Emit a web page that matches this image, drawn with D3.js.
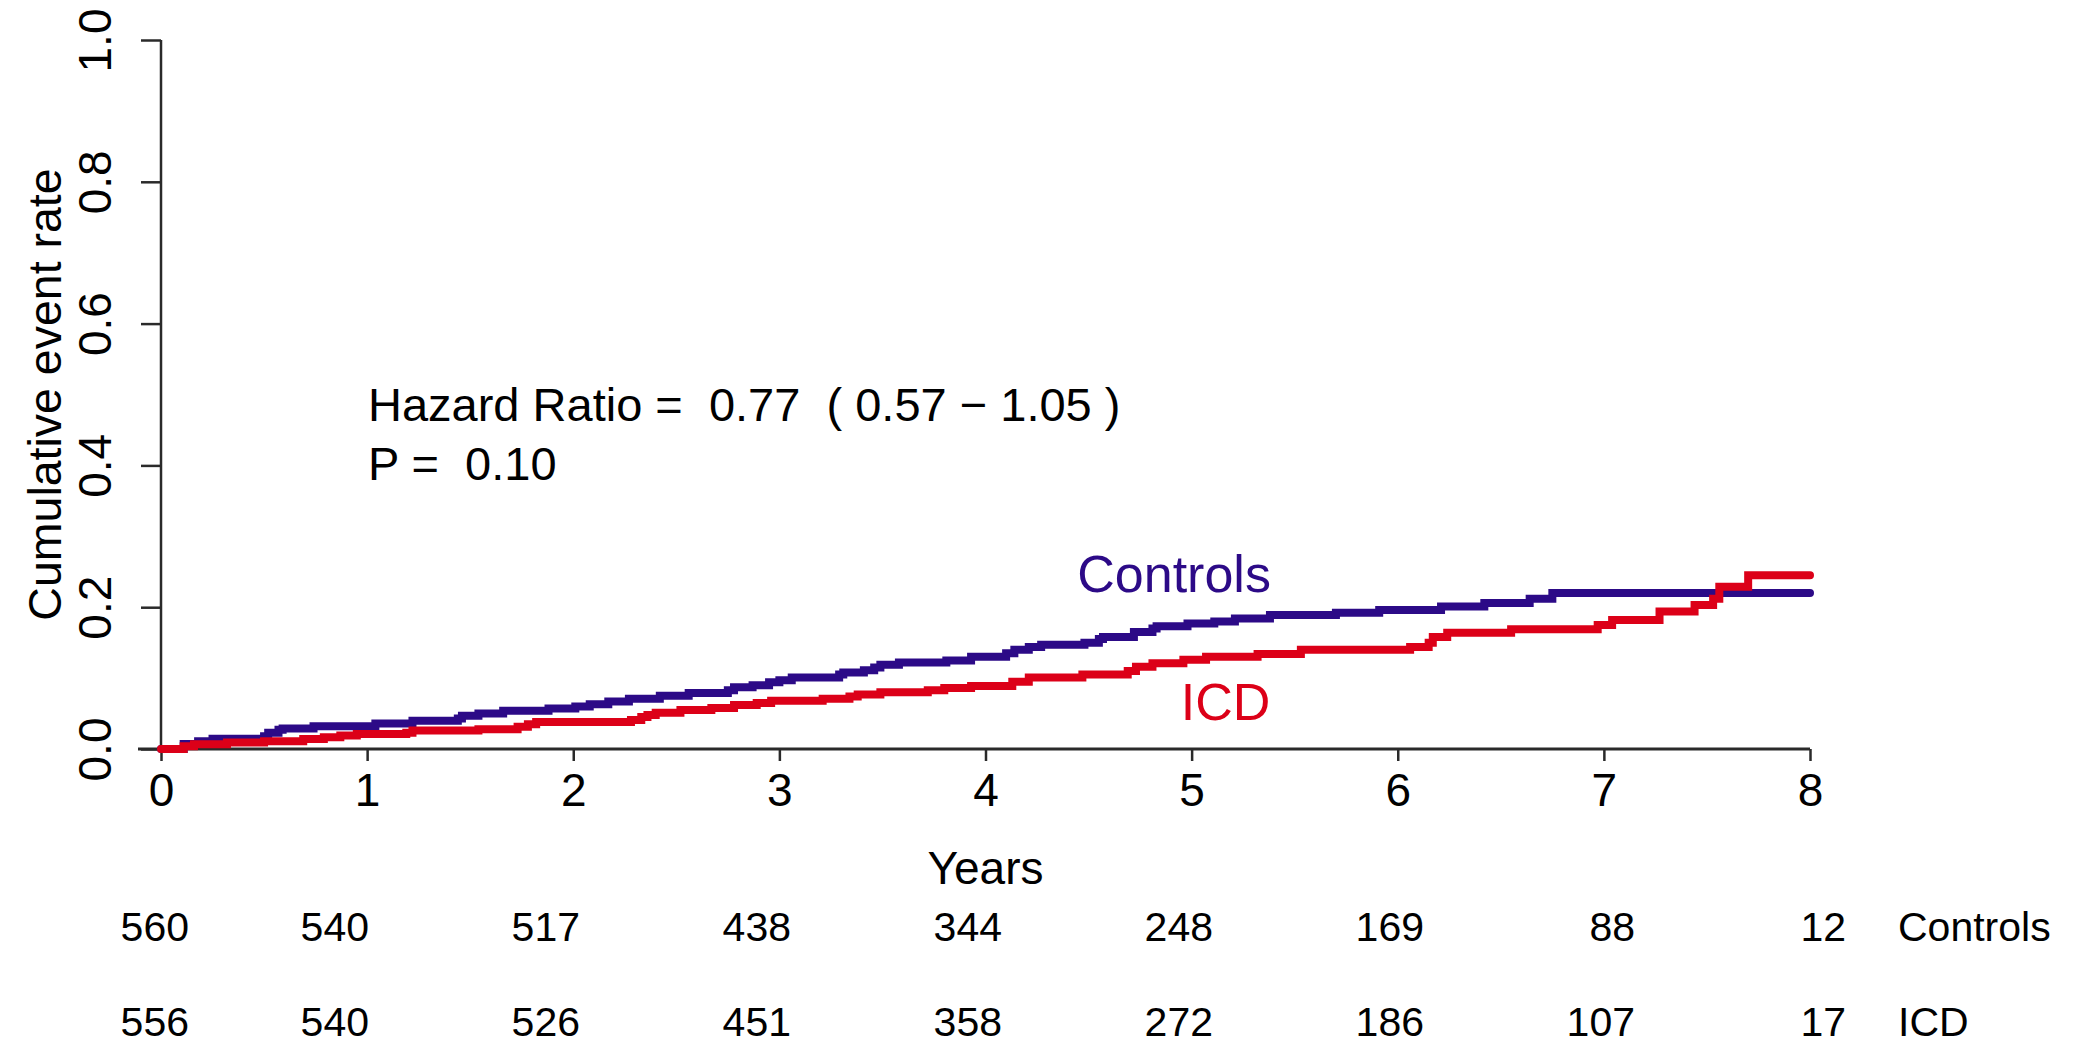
<!DOCTYPE html>
<html>
<head>
<meta charset="utf-8">
<script src="https://cdn.jsdelivr.net/npm/d3@7"></script>
<style>
  body { margin: 0; background: #fff; }
  svg text { font-family: "Liberation Sans", Arial, Helvetica, sans-serif; }
</style>
</head>
<body>
<svg id="chart" width="2075" height="1051"></svg>
<script>
// ---------------- data ----------------
const controlsTime = [0, 0.11, 0.18, 0.25, 0.50, 0.52, 0.57, 0.59, 0.74, 1.04, 1.22, 1.44, 1.46, 1.54, 1.66, 1.88,
  2.01, 2.08, 2.17, 2.27, 2.42, 2.56, 2.75, 2.78, 2.87, 2.95, 3.00, 3.06, 3.29, 3.31, 3.41, 3.46, 3.49, 3.58, 3.81,
  3.93, 4.10, 4.14, 4.21, 4.27, 4.48, 4.55, 4.57, 4.72, 4.81, 4.83, 4.98, 5.11, 5.21, 5.38, 5.70, 5.91, 6.21, 6.42,
  6.64, 6.75, 8.0];
const controlsRate = [0, 0.007, 0.011, 0.0146, 0.018, 0.023, 0.027, 0.029, 0.032, 0.036, 0.040, 0.043, 0.047, 0.050,
  0.054, 0.057, 0.060, 0.063, 0.067, 0.071, 0.075, 0.079, 0.083, 0.087, 0.090, 0.094, 0.097, 0.101, 0.105, 0.108,
  0.111, 0.115, 0.119, 0.122, 0.125, 0.130, 0.135, 0.140, 0.144, 0.147, 0.150, 0.155, 0.158, 0.165, 0.170, 0.173,
  0.177, 0.180, 0.184, 0.189, 0.192, 0.196, 0.201, 0.206, 0.212, 0.220, 0.220];

const icdTime = [0, 0.11, 0.16, 0.32, 0.50, 0.69, 0.79, 0.87, 0.95, 1.19, 1.22, 1.54, 1.73, 1.78, 1.82, 2.28, 2.33,
  2.36, 2.40, 2.52, 2.67, 2.78, 2.89, 2.96, 3.21, 3.34, 3.38, 3.49, 3.72, 3.80, 3.93, 4.13, 4.21, 4.47, 4.69, 4.73,
  4.81, 4.96, 5.07, 5.32, 5.53, 6.06, 6.15, 6.17, 6.24, 6.55, 6.97, 7.04, 7.27, 7.44, 7.53, 7.56, 7.70, 8.0];
const icdRate = [0, 0.004, 0.0066, 0.009, 0.011, 0.014, 0.0165, 0.019, 0.021, 0.023, 0.026, 0.028, 0.0315, 0.035,
  0.038, 0.041, 0.045, 0.048, 0.051, 0.055, 0.058, 0.062, 0.065, 0.068, 0.071, 0.074, 0.077, 0.080, 0.083, 0.086,
  0.089, 0.095, 0.101, 0.105, 0.110, 0.116, 0.121, 0.126, 0.130, 0.134, 0.140, 0.144, 0.150, 0.158, 0.164, 0.169,
  0.175, 0.182, 0.194, 0.203, 0.212, 0.229, 0.245, 0.245];

const xTickValues = [0, 1, 2, 3, 4, 5, 6, 7, 8];
const yTickValues = [0, 0.2, 0.4, 0.6, 0.8, 1.0];

const riskTimes = [0, 1, 2, 3, 4, 5, 6, 7, 8];
const riskControls = [560, 540, 517, 438, 344, 248, 169, 88, 12];
const riskICD = [556, 540, 526, 451, 358, 272, 186, 107, 17];
const groupNames = ["Controls", "ICD"];

const xTitle = "Years";
const yTitle = "Cumulative event rate";
const hrLine = "Hazard Ratio =  0.77  ( 0.57 \u2212 1.05 )";
const pLine = "P =  0.10";

// ---------------- layout ----------------
const colControls = "#2c0a87";
const colICD = "#dc0018";
const axisCol = "#2a2a2a";
const textCol = "#000";

const svg = d3.select("#chart");
const x = d3.scaleLinear().domain([0, 8]).range([161, 1810]);
const y = d3.scaleLinear().domain([0, 1]).range([749, 40]);

// axes
const gx = svg.append("g").attr("transform", `translate(0,${y(0)})`)
  .call(d3.axisBottom(x).tickValues(xTickValues).tickSize(12).tickSizeOuter(0).tickFormat(d3.format("d")));
gx.select(".domain").remove();
gx.selectAll(".tick line").attr("stroke", axisCol).attr("stroke-width", 2.5);
gx.selectAll(".tick text").attr("fill", textCol).attr("font-size", 46).attr("y", 0).attr("dy", 0)
  .attr("transform", "translate(0,57)");
svg.append("line").attr("x1", 138).attr("x2", x(8)).attr("y1", y(0)).attr("y2", y(0))
  .attr("stroke", axisCol).attr("stroke-width", 3);

const gy = svg.append("g").attr("transform", `translate(${x(0)},0)`)
  .call(d3.axisLeft(y).tickValues(yTickValues).tickSize(20).tickSizeOuter(0).tickFormat(d3.format(".1f")));
gy.select(".domain").remove();
gy.selectAll(".tick line").attr("stroke", axisCol).attr("stroke-width", 2.5);
gy.selectAll(".tick text").attr("fill", textCol).attr("font-size", 46)
  .attr("x", 0).attr("dy", 0).attr("text-anchor", "middle")
  .attr("transform", "translate(-50,0) rotate(-90)");
svg.append("line").attr("x1", x(0)).attr("x2", x(0)).attr("y1", y(1)).attr("y2", y(0))
  .attr("stroke", axisCol).attr("stroke-width", 2.5);

// titles
svg.append("text").attr("x", (x(0) + x(8)) / 2).attr("y", 884).attr("text-anchor", "middle")
  .attr("font-size", 46).attr("fill", textCol).text(xTitle);
svg.append("text").attr("transform", `translate(61,${(y(0) + y(1)) / 2}) rotate(-90)`)
  .attr("text-anchor", "middle").attr("font-size", 46.5).attr("fill", textCol).text(yTitle);

// curves
const line = d3.line().x(d => x(d[0])).y(d => y(d[1])).curve(d3.curveStepAfter);
const series = [
  { name: groupNames[0], color: colControls, pts: controlsTime.map((t, i) => [t, controlsRate[i]]) },
  { name: groupNames[1], color: colICD, pts: icdTime.map((t, i) => [t, icdRate[i]]) }
];
svg.selectAll("path.km").data(series).join("path").attr("class", "km")
  .attr("d", d => line(d.pts)).attr("fill", "none").attr("stroke", d => d.color)
  .attr("stroke-width", 8).attr("stroke-linecap", "round").attr("stroke-linejoin", "miter");

// annotations
svg.append("text").attr("x", 368).attr("y", 421).attr("font-size", 47).attr("fill", textCol)
  .style("white-space", "pre").text(hrLine);
svg.append("text").attr("x", 368).attr("y", 480).attr("font-size", 47).attr("fill", textCol)
  .style("white-space", "pre").text(pLine);

svg.append("text").attr("x", x(4.915)).attr("y", y(0.2214)).attr("text-anchor", "middle")
  .attr("font-size", 52).attr("fill", colControls).text(groupNames[0]);
svg.append("text").attr("x", x(5.165)).attr("y", y(0.0409)).attr("text-anchor", "middle")
  .attr("font-size", 52).attr("fill", colICD).text(groupNames[1]);

// number at risk
const riskX = d3.scaleLinear().domain([0, 8]).range([158, 1846]);
const riskRows = [
  { name: groupNames[0], vals: riskControls, yb: 941 },
  { name: groupNames[1], vals: riskICD, yb: 1036 }
];
riskRows.forEach(r => {
  const g = svg.append("g");
  g.selectAll("text.n").data(riskTimes).join("text").attr("class", "n")
    .attr("x", (t, i) => i === 0 ? riskX(t) + 31 : riskX(t))
    .attr("y", r.yb).attr("text-anchor", "end").attr("font-size", 41).attr("fill", textCol)
    .text((t, i) => r.vals[i]);
  g.append("text").attr("x", 1898).attr("y", r.yb).attr("font-size", 41).attr("fill", textCol).text(r.name);
});
</script>
</body>
</html>
